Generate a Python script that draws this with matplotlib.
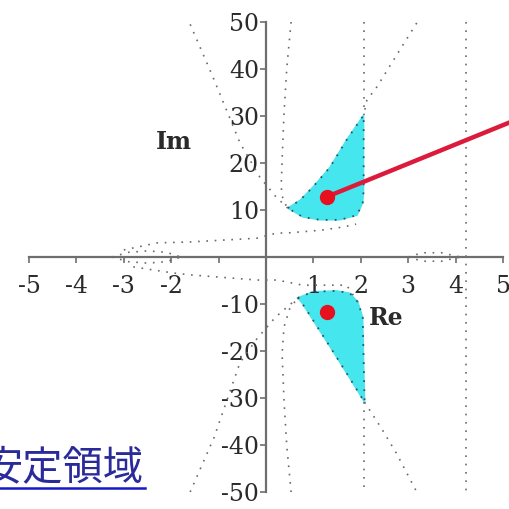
# 导入必要的库
import matplotlib
matplotlib.use('Agg')
import matplotlib.pyplot as plt  # 用于绘图
from matplotlib.lines import Line2D

plt.rcParams['axes.unicode_minus'] = False  # 负号用普通连字符

# ---- 数据 ----
# 坐标轴刻度
x_ticks = [-5, -4, -3, -2, -1, 1, 2, 3, 4, 5]
x_ticklabels = ['-5', '-4', '-3', '-2', '', '1', '2', '3', '4', '5']
y_ticks = [-50, -40, -30, -20, -10, 10, 20, 30, 40, 50]

# 上半平面稳定区域（青色）
region_up_re = [0.46, 0.72, 0.99, 1.35, 1.70, 2.06, 2.06, 2.04, 1.92, 1.56, 1.14, 0.78, 0.46]
region_up_im = [10.4, 12.1, 14.9, 19.1, 24.9, 30.2, 14.2, 11.5, 8.9, 7.9, 7.9, 8.5, 10.4]
# 下半平面稳定区域
region_dn_re = [0.67, 0.99, 1.49, 1.77, 1.94, 2.04, 2.08, 1.70, 1.35, 0.99, 0.76, 0.67]
region_dn_im = [-8.7, -7.4, -7.2, -7.7, -9.6, -12.8, -30.9, -24.7, -19.1, -13.4, -9.8, -8.7]

# 极点
pole_re = [1.28, 1.28]
pole_im = [12.8, -11.7]

# 指示线
arrow_re = [1.28, 5.40]
arrow_im = [12.8, 29.7]

# 边界曲线（虚点线）
curves = {
    'a_up': ([-1.60, -1.12, -0.55, -0.13, 0.21, 0.46], [49.5, 38.3, 24.3, 17.0, 12.8, 10.4]),
    'a_dn': ([-1.60, -1.10, -0.55, -0.20, 0.20, 0.67], [-50.0, -38.5, -22.5, -17.5, -12.8, -8.7]),
    'b_up': ([0.53, 0.44, 0.38, 0.34, 0.32, 0.36, 0.46], [50.0, 40.4, 30.6, 20.6, 14.9, 12.0, 10.4]),
    'b_dn': ([0.53, 0.44, 0.38, 0.34, 0.38, 0.50, 0.67], [-50.0, -40.4, -30.6, -20.6, -14.9, -11.0, -8.7]),
    'c_up': ([2.06, 2.06], [50.0, 30.2]),
    'c_dn': ([2.06, 2.06], [-30.9, -50.0]),
    'd_up': ([3.18, 2.69, 2.34, 2.13, 2.06], [49.8, 41.9, 36.2, 33.4, 30.2]),
    'd_dn': ([2.08, 2.42, 2.76, 3.18], [-30.9, -36.2, -41.9, -50.0]),
    'e': ([4.21, 4.21], [50.0, -50.0]),
    'f_up': ([-3.00, -2.30, -1.60, -0.19, 0.23, 0.44, 1.16, 1.64, 1.90], [1.5, 3.0, 3.2, 4.0, 5.1, 5.1, 5.7, 6.4, 7.0]),
    'f_dn': ([-2.80, -1.96, -1.60, -0.19, 0.23, 0.78, 1.70, 1.94], [-2.1, -3.4, -3.8, -4.9, -4.9, -6.0, -6.0, -9.6]),
    'g_up': ([-3.25, -2.90, -2.50, -2.10, -1.80], [0.0, 1.0, 1.3, 1.0, 0.0]),
    'g_dn': ([-3.25, -2.90, -2.50, -2.10, -1.80], [0.0, -1.0, -1.3, -1.0, 0.0]),
    'h_up': ([3.00, 3.30, 3.70, 4.10], [0.0, 0.9, 0.9, 0.0]),
    'h_dn': ([3.00, 3.30, 3.70, 4.10], [0.0, -0.9, -0.9, 0.0]),
}

DOT = (0, (1, 4))


def setup_axes(fig):
    """建立原点交叉的坐标轴"""
    ax = fig.add_axes([29 / 509, 17 / 509, 474 / 509, 470 / 509])
    ax.set_xlim(-5, 5)
    ax.set_ylim(-50, 50)
    for side in ('top', 'right'):
        ax.spines[side].set_visible(False)
    for side in ('left', 'bottom'):
        ax.spines[side].set_position('zero')
        ax.spines[side].set_color('#6e6e6e')
        ax.spines[side].set_linewidth(1.6)
    ax.set_xticks(x_ticks)
    ax.set_xticklabels(x_ticklabels)
    ax.set_yticks(y_ticks)
    ax.set_yticklabels([str(v) for v in y_ticks])
    ax.tick_params(axis='both', direction='out', length=4, width=1.2,
                   color='#6e6e6e', labelcolor='#2a2a2a', labelsize=17)
    ax.tick_params(axis='x', pad=9)
    ax.tick_params(axis='y', pad=1)
    for lab in ax.get_xticklabels() + ax.get_yticklabels():
        lab.set_family('DejaVu Serif')
    ax.patch.set_alpha(0)
    return ax


fig = plt.figure(figsize=(5.09, 5.09), dpi=100)
ax = setup_axes(fig)

# 稳定区域填充
ax.fill(region_up_re, region_up_im, color='#45e6ee', zorder=1)
ax.fill(region_dn_re, region_dn_im, color='#45e6ee', zorder=1)
ax.plot(region_up_re, region_up_im, color='#35505a', lw=1.3, ls=DOT, zorder=2)
ax.plot(region_dn_re, region_dn_im, color='#35505a', lw=1.3, ls=DOT, zorder=2)

# 边界曲线
for name, (re, im) in curves.items():
    ax.plot(re, im, color='#6a6a6a', lw=1.2, ls=DOT, zorder=2)

# 指示线和极点
ax.plot(arrow_re, arrow_im, color='#dc1a3c', lw=3.2, solid_capstyle='butt',
        clip_on=False, zorder=4)
ax.plot(pole_re, pole_im, 'o', color='#e8101e', ms=10, mec='#e8101e', zorder=5)

# 轴名
ax.text(-1.94, 24.5, 'Im', family='DejaVu Serif', weight='bold', fontsize=17,
        color='#2a2a2a', ha='center', va='center')
ax.text(2.17, -13.0, 'Re', family='DejaVu Serif', weight='bold', fontsize=17,
        color='#2a2a2a', ha='left', va='center')

# 标题链接文字
fig.text(144 / 509, 30 / 509, '安定領域', family=['Noto Sans CJK JP', 'DejaVu Sans'],
         fontsize=29, color='#2a2a9a', ha='right', va='baseline')
fig.add_artist(Line2D([0, 145 / 509], [21 / 509, 21 / 509], color='#1818c8', lw=1.8))

fig.savefig('out.png', dpi=100)
